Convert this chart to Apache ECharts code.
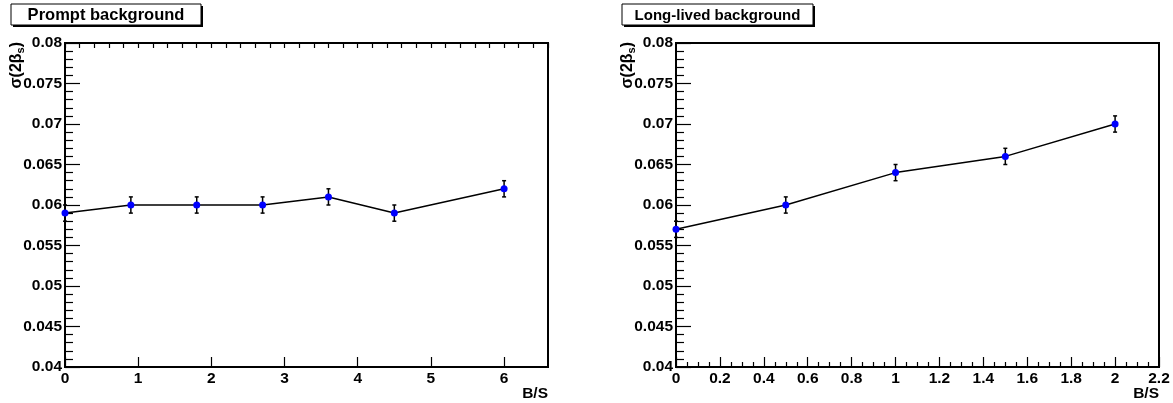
<!DOCTYPE html>
<html><head><meta charset="utf-8">
<script src="https://cdn.jsdelivr.net/npm/echarts@6/dist/echarts.min.js"></script>
<style>html,body{margin:0;padding:0;background:#fff}#c{width:1173px;height:403px}</style>
</head><body><div id="c"></div>
<script>
// ---- data ----
const promptX = [0, 0.9, 1.8, 2.7, 3.6, 4.5, 6.0];
const promptY = [0.059, 0.060, 0.060, 0.060, 0.061, 0.059, 0.062];
const promptErr = [0.001, 0.001, 0.001, 0.001, 0.001, 0.001, 0.001];
const longX = [0, 0.5, 1.0, 1.5, 2.0];
const longY = [0.057, 0.060, 0.064, 0.066, 0.070];
const longErr = [0.001, 0.001, 0.001, 0.001, 0.001];
const panelTitles = ['Prompt background', 'Long-lived background'];
const xAxisTitle = 'B/S';
const yAxisTitleMain = 'σ(2β';
const yAxisTitleSub = 's';
const yAxisTitleEnd = ')';

// ---- build ----
const FONT = '"Liberation Sans", Arial, Helvetica, sans-serif';
const pts = (xs, ys) => xs.map((x, i) => [x, ys[i]]);
const errs = (xs, ys, es) => xs.map((x, i) => [x, ys[i] - es[i], ys[i] + es[i]]);

function errRender(params, api) {
  const x = api.value(0), lo = api.value(1), hi = api.value(2);
  const p1 = api.coord([x, hi]), p2 = api.coord([x, lo]);
  const w = 2;
  const st = { stroke: '#000', lineWidth: 1.5 };
  return { type: 'group', children: [
    { type: 'line', shape: { x1: p1[0], y1: p1[1], x2: p2[0], y2: p2[1] }, style: st },
    { type: 'line', shape: { x1: p1[0] - w, y1: p1[1], x2: p1[0] + w, y2: p1[1] }, style: st },
    { type: 'line', shape: { x1: p2[0] - w, y1: p2[1], x2: p2[0] + w, y2: p2[1] }, style: st }
  ]};
}

const labelStyle = { color: '#000', fontFamily: FONT, fontWeight: 'bold', fontSize: 15.5 };
const fmt = v => String(parseFloat(Number(v).toFixed(3)));

function xAxisCfg(grid, max, interval, opts) {
  return Object.assign({
    type: 'value', gridIndex: grid, min: 0, max: max, interval: interval,
    axisLine: { show: true, onZero: false, lineStyle: { color: '#000', width: 2 } },
    axisTick: { show: true, inside: true, length: 10, lineStyle: { color: '#000', width: 1.2 } },
    axisLabel: Object.assign({ margin: 4, formatter: fmt }, labelStyle),
    splitLine: { show: false },
    name: xAxisTitle, nameLocation: 'end', nameGap: 0, nameMoveOverlap: false,
    nameTextStyle: { color: '#000', fontFamily: FONT, fontWeight: 'bold', fontSize: 15.5,
      align: 'right', verticalAlign: 'top', padding: [19, 0, 0, 0] }
  }, opts || {});
}
function yAxisCfg(grid) {
  return {
    type: 'value', gridIndex: grid, min: 0.04, max: 0.08, interval: 0.005,
    axisLine: { show: true, onZero: false, lineStyle: { color: '#000', width: 2 } },
    axisTick: { show: true, inside: true, length: 15, lineStyle: { color: '#000', width: 1.2 } },
    minorTick: { show: true, splitNumber: 5, length: 8, lineStyle: { color: '#000', width: 1.2 } },
    axisLabel: Object.assign({ margin: 3, formatter: fmt, showMinLabel: true, showMaxLabel: true }, labelStyle),
    splitLine: { show: false }
  };
}

function titleBox(x, y, w, h, text, size) {
  return { type: 'group', x: x, y: y, children: [
    { type: 'rect', shape: { x: 2, y: 2, width: w, height: h }, style: { fill: '#000' } },
    { type: 'rect', shape: { x: 0, y: 0, width: w, height: h }, style: { fill: '#fff', stroke: '#000', lineWidth: 1 } },
    { type: 'text', x: w / 2, y: h / 2 + 1, style: { text: text, font: 'bold ' + size + 'px ' + FONT, fill: '#000', align: 'center', verticalAlign: 'middle' } }
  ]};
}
function yTitle(x, y) {
  return { type: 'text', x: x, y: y, rotation: Math.PI / 2,
    style: { text: '{a|' + yAxisTitleMain + '}{s|' + yAxisTitleSub + '}{a|' + yAxisTitleEnd + '}',
      align: 'right', verticalAlign: 'middle', fill: '#000',
      rich: { a: { font: 'bold 16px ' + FONT, fill: '#000', lineHeight: 18 },
              s: { font: 'bold 11px ' + FONT, fill: '#000', verticalAlign: 'bottom', lineHeight: 18, padding: [9, 0, 0, 0] } } } };
}

const gridBox = { show: true, borderColor: '#000', borderWidth: 2, backgroundColor: 'transparent',
  containLabel: false, outerBoundsMode: 'none' };

const option = {
  animation: false,
  backgroundColor: '#fff',
  grid: [
    Object.assign({ left: 65, top: 43, width: 483, height: 324 }, gridBox),
    Object.assign({ left: 676, top: 43, width: 483, height: 324 }, gridBox)
  ],
  xAxis: [
    xAxisCfg(0, 6.6, 1, { axisLabel: Object.assign({ margin: 4, formatter: fmt, showMaxLabel: false }, labelStyle) }),
    xAxisCfg(0, 6.6, 0.2, { name: '', axisLine: { show: false }, axisLabel: { show: false },
      axisTick: { show: true, inside: true, length: 5, lineStyle: { color: '#000', width: 1.2 } } }),
    xAxisCfg(1, 2.2, 0.2, { minorTick: { show: true, splitNumber: 4, length: 5, lineStyle: { color: '#000', width: 1.2 } } })
  ],
  yAxis: [yAxisCfg(0), yAxisCfg(1)],
  graphic: [
    titleBox(11, 4, 190, 21, panelTitles[0], 16.5),
    titleBox(622, 4, 191, 21, panelTitles[1], 15),
    yTitle(17, 42),
    yTitle(628, 42)
  ],
  series: [
    { type: 'custom', name: 'err0', xAxisIndex: 0, yAxisIndex: 0, renderItem: errRender,
      encode: { x: 0, y: [1, 2] }, data: errs(promptX, promptY, promptErr), z: 2, silent: true },
    { type: 'line', name: panelTitles[0], xAxisIndex: 0, yAxisIndex: 0, data: pts(promptX, promptY),
      symbol: 'circle', symbolSize: 7, itemStyle: { color: '#0000ff' },
      lineStyle: { color: '#000', width: 1.5 }, z: 3 },
    { type: 'custom', name: 'err1', xAxisIndex: 2, yAxisIndex: 1, renderItem: errRender,
      encode: { x: 0, y: [1, 2] }, data: errs(longX, longY, longErr), z: 2, silent: true },
    { type: 'line', name: panelTitles[1], xAxisIndex: 2, yAxisIndex: 1, data: pts(longX, longY),
      symbol: 'circle', symbolSize: 7, itemStyle: { color: '#0000ff' },
      lineStyle: { color: '#000', width: 1.5 }, z: 3 }
  ]
};
const chart = echarts.init(document.getElementById('c'), null, { renderer: 'canvas' });
chart.setOption(option);
</script>
</body></html>
